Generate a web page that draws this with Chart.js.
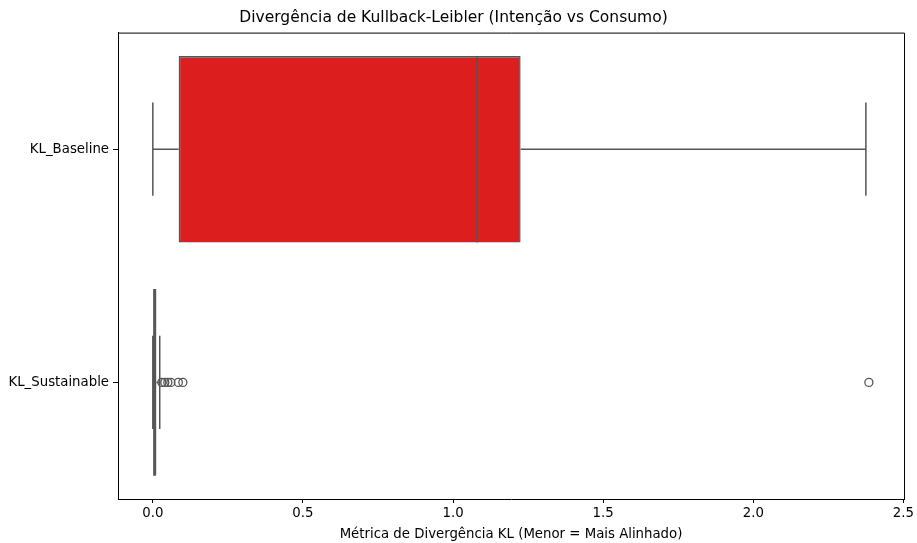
<!DOCTYPE html>
<html>
<head>
<meta charset="utf-8">
<script src="https://cdn.jsdelivr.net/npm/chart.js@4/dist/chart.umd.min.js"></script>
<style>
  html, body { margin: 0; padding: 0; background: #fff; }
  #wrap { width: 917px; height: 543px; }
</style>
</head>
<body>
<div id="wrap"><canvas id="graphique-kl"></canvas></div>
<script>
// Donnees
const categories = ["KL_Baseline", "KL_Sustainable"];
const whiskerLow = [0.0, 0.0];
const q1 = [0.086, 0.0];
const median = [1.08, 0.004];
const q3 = [1.225, 0.012];
const whiskerHigh = [2.375, 0.023];
const outliersSustainable = [0.03, 0.04, 0.05, 0.06, 0.085, 0.10, 2.385];
const xTicks = [0.0, 0.5, 1.0, 1.5, 2.0, 2.5];
const boxColors = ["#dc1e1f", "#45455a"];

const lineColor = "#555555";

// Plugin pour dessiner moustaches, mediane et cadre
const boxPlugin = {
    id: "boxPlugin",
    afterDatasetsDraw(chart) {
        const ctx = chart.ctx;
        const x = chart.scales.x;
        const y = chart.scales.y;
        const meta = chart.getDatasetMeta(0);
        ctx.save();
        ctx.strokeStyle = lineColor;
        ctx.lineWidth = 1.5;
        for (let i = 0; i < categories.length; i++) {
            const cy = y.getPixelForValue(i);
            const half = meta.data[i].height / 2;
            const cap = half / 2;
            ctx.beginPath();
            // moustache basse
            ctx.moveTo(x.getPixelForValue(whiskerLow[i]), cy);
            ctx.lineTo(x.getPixelForValue(q1[i]), cy);
            ctx.moveTo(x.getPixelForValue(whiskerLow[i]), cy - cap);
            ctx.lineTo(x.getPixelForValue(whiskerLow[i]), cy + cap);
            // moustache haute
            ctx.moveTo(x.getPixelForValue(q3[i]), cy);
            ctx.lineTo(x.getPixelForValue(whiskerHigh[i]), cy);
            ctx.moveTo(x.getPixelForValue(whiskerHigh[i]), cy - cap);
            ctx.lineTo(x.getPixelForValue(whiskerHigh[i]), cy + cap);
            // mediane
            ctx.moveTo(x.getPixelForValue(median[i]), cy - half);
            ctx.lineTo(x.getPixelForValue(median[i]), cy + half);
            ctx.stroke();
        }
        // cadre haut et droit
        const a = chart.chartArea;
        ctx.strokeStyle = "#000";
        ctx.lineWidth = 1;
        ctx.beginPath();
        ctx.moveTo(a.left, a.top + 0.5);
        ctx.lineTo(a.right + 0.5, a.top + 0.5);
        ctx.lineTo(a.right + 0.5, a.bottom);
        ctx.stroke();
        ctx.restore();
    }
};

const data = {
    labels: categories,
    datasets: [{
        type: "bar",
        label: "box",
        data: q1.map((v, i) => [v, q3[i]]),
        backgroundColor: boxColors,
        borderColor: lineColor,
        borderWidth: 1.5,
        borderSkipped: false,
        barPercentage: 0.8,
        categoryPercentage: 1.0
    }, {
        type: "scatter",
        label: "outliers",
        data: outliersSustainable.map(v => ({x: v, y: "KL_Sustainable"})),
        pointStyle: "circle",
        pointRadius: 4,
        pointBorderWidth: 1.3,
        backgroundColor: "rgba(0,0,0,0)",
        borderColor: lineColor
    }]
};

const config = {
    type: "bar",
    data: data,
    options: {
        indexAxis: "y",
        responsive: true,
        maintainAspectRatio: false,
        animation: false,
        layout: { padding: { top: 7, right: 10, left: 0, bottom: 0 } },
        plugins: {
            legend: { display: false },
            tooltip: { enabled: false },
            title: {
                display: true,
                text: "Divergência de Kullback-Leibler (Intenção vs Consumo)",
                color: "#000",
                font: { family: "DejaVu Sans", size: 15.5, weight: "normal" },
                padding: { top: 2, bottom: 5 }
            }
        },
        scales: {
            x: {
                type: "linear",
                min: -0.116,
                max: 2.502,
                afterBuildTicks: (scale) => { scale.ticks = xTicks.map(v => ({ value: v })); },
                afterFit: (scale) => { scale.height = 44; },
                ticks: {
                    color: "#000",
                    font: { family: "DejaVu Sans", size: 13.3 },
                    callback: (v) => Number(v).toFixed(1),
                    padding: 3,
                    maxRotation: 0
                },
                grid: { display: true, drawOnChartArea: false, tickLength: 4, tickColor: "#000", tickWidth: 1 },
                border: { display: true, color: "#000", width: 1 },
                title: {
                    display: true,
                    text: "Métrica de Divergência KL (Menor = Mais Alinhado)",
                    color: "#000",
                    font: { family: "DejaVu Sans", size: 13.3 },
                    padding: { top: 2, bottom: 0 }
                }
            },
            y: {
                type: "category",
                offset: true,
                afterFit: (scale) => { scale.width = 118; },
                ticks: {
                    color: "#000",
                    font: { family: "DejaVu Sans", size: 13.3 },
                    padding: 4
                },
                grid: { display: true, drawOnChartArea: false, tickLength: 5, tickColor: "#000", tickWidth: 1, offset: false },
                border: { display: true, color: "#000", width: 1 }
            }
        }
    },
    plugins: [boxPlugin]
};

const graphique = new Chart(document.querySelector("#graphique-kl"), config);
</script>
</body>
</html>
